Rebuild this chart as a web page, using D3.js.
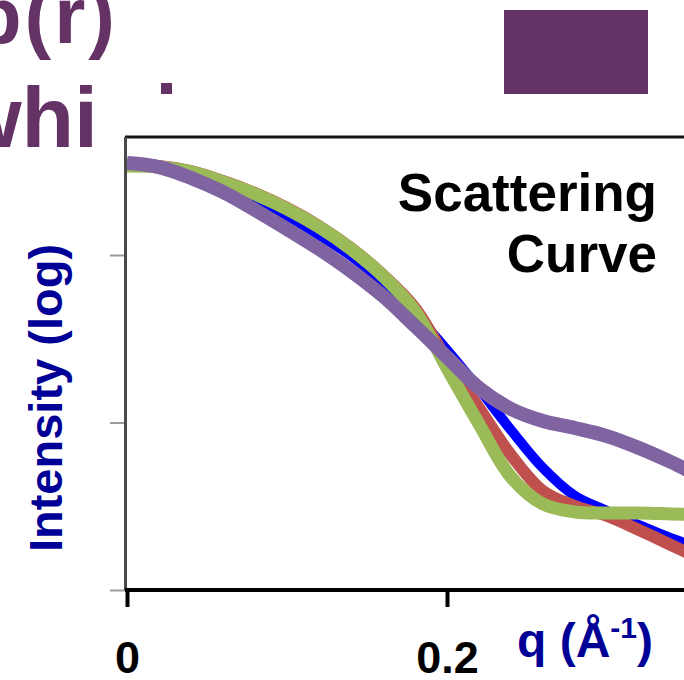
<!DOCTYPE html>
<html>
<head>
<meta charset="utf-8">
<script src="https://cdn.jsdelivr.net/npm/d3@7"></script>
<style>
  html, body { margin: 0; padding: 0; background: #fff; overflow: hidden; }
  svg { display: block; font-family: 'Liberation Sans', Arial, sans-serif; }
</style>
</head>
<body>
<svg id="chart" width="684" height="680"></svg>
<script>
// q in 1/Angstrom, intensity as log10 (arbitrary units)
const qValues = [0, 0.02, 0.04, 0.06, 0.08, 0.10, 0.12, 0.14, 0.16, 0.18, 0.20,
  0.22, 0.24, 0.26, 0.28, 0.30, 0.32, 0.34, 0.36]
const blueLog = [2.537, 2.525, 2.478, 2.406, 2.328, 2.233, 2.119, 1.994, 1.839, 1.648, 1.433,
  1.200, 0.955, 0.728, 0.561, 0.472, 0.388, 0.310, 0.245]
const redLog = [2.537, 2.531, 2.501, 2.442, 2.370, 2.281, 2.173, 2.042, 1.881, 1.684, 1.373,
  1.087, 0.806, 0.591, 0.501, 0.442, 0.358, 0.269, 0.179]
const greenLog = [2.531, 2.525, 2.496, 2.436, 2.364, 2.275, 2.167, 2.036, 1.875, 1.666, 1.325,
  0.991, 0.675, 0.513, 0.466, 0.460, 0.460, 0.454, 0.448]
const purpleLog = [2.549, 2.525, 2.460, 2.376, 2.269, 2.155, 2.036, 1.904, 1.755, 1.576, 1.391,
  1.206, 1.081, 1.009, 0.967, 0.919, 0.848, 0.764, 0.669]

const xTicks = [0, 0.2]
const yTicks = [0, 1, 2]

const series = [
  { name: 'blue', values: blueLog, color: '#0000ff', width: 10 },
  { name: 'red', values: redLog, color: '#c0504d', width: 12 },
  { name: 'green', values: greenLog, color: '#9bbb59', width: 13 },
  { name: 'purple', values: purpleLog, color: '#8064a2', width: 14 }
]

const svg = d3.select('#chart')
const plot = { left: 127, top: 137, bottom: 590, right: 700 }

const x = d3.scaleLinear().domain([0, 0.2]).range([plot.left, 447])
const y = d3.scaleLinear().domain([0, 2]).range([plot.bottom, 255])

// slide leftovers around the chart
const slidePurple = '#643264'
svg.append('text')
  .attr('x', 118).attr('y', 43)
  .attr('text-anchor', 'end')
  .attr('font-size', 80).attr('font-weight', 'bold')
  .attr('letter-spacing', 3)
  .attr('fill', slidePurple)
  .text('p(r)')
svg.append('text')
  .attr('x', 98).attr('y', 147)
  .attr('text-anchor', 'end')
  .attr('font-size', 86).attr('font-weight', 'bold')
  .attr('fill', slidePurple)
  .text('whi')
svg.append('rect')
  .attr('x', 161).attr('y', 83).attr('width', 11).attr('height', 11)
  .attr('fill', slidePurple)
svg.append('rect')
  .attr('x', 504).attr('y', 10).attr('width', 144).attr('height', 84)
  .attr('fill', slidePurple)

// y ticks (grey, no labels)
svg.append('g')
  .attr('transform', `translate(${plot.left - 2},0)`)
  .call(d3.axisLeft(y).tickValues(yTicks).tickSize(15).tickFormat(''))
  .call(g => g.select('.domain').remove())
  .call(g => g.selectAll('.tick line').attr('stroke', '#9a9a9a').attr('stroke-width', 2))

// curves
svg.append('clipPath').attr('id', 'plot-clip')
  .append('rect')
  .attr('x', plot.left).attr('y', plot.top)
  .attr('width', plot.right - plot.left).attr('height', plot.bottom - plot.top)

const line = d3.line()
  .x((d, i) => x(qValues[i]))
  .y(d => y(d))
  .curve(d3.curveCatmullRom.alpha(0.5))

svg.append('g')
  .attr('clip-path', 'url(#plot-clip)')
  .selectAll('path')
  .data(series)
  .join('path')
  .attr('fill', 'none')
  .attr('stroke', d => d.color)
  .attr('stroke-width', d => d.width)
  .attr('stroke-linejoin', 'round')
  .attr('d', d => line(d.values))

// frame
svg.append('line')
  .attr('x1', plot.left - 2).attr('x2', 684)
  .attr('y1', plot.top).attr('y2', plot.top)
  .attr('stroke', '#111').attr('stroke-width', 3)
svg.append('line')
  .attr('x1', plot.left - 1.5).attr('x2', plot.left - 1.5)
  .attr('y1', plot.top).attr('y2', plot.bottom)
  .attr('stroke', '#4a4a4a').attr('stroke-width', 3)

// x axis
const xAxis = svg.append('g')
  .attr('transform', `translate(0,${plot.bottom})`)
  .call(d3.axisBottom(x).tickValues(xTicks).tickSize(17).tickFormat(d => String(d)))
xAxis.select('.domain').remove()
xAxis.append('line')
  .attr('x1', plot.left - 2).attr('x2', 684)
  .attr('stroke', '#000').attr('stroke-width', 4)
xAxis.selectAll('.tick line').attr('stroke', '#000').attr('stroke-width', 4)
xAxis.selectAll('.tick text')
  .attr('y', 83).attr('dy', null)
  .attr('fill', '#000')
  .attr('font-family', "'Liberation Sans', Arial, sans-serif")
  .attr('font-size', 45).attr('font-weight', 'bold')

// axis titles
const navy = '#000096'
const xTitle = svg.append('text')
  .attr('x', 517).attr('y', 657)
  .attr('font-size', 48).attr('font-weight', 'bold')
  .attr('fill', navy)
xTitle.append('tspan').text('q (Å')
xTitle.append('tspan').attr('font-size', 30).attr('dy', -19).text('-1')
xTitle.append('tspan').attr('dy', 19).text(')')

svg.append('text')
  .attr('transform', 'translate(62,398) rotate(-90)')
  .attr('text-anchor', 'middle')
  .attr('font-size', 47).attr('font-weight', 'bold')
  .attr('fill', navy)
  .text('Intensity (log)')

// in-plot caption
svg.append('text')
  .attr('text-anchor', 'end')
  .attr('font-size', 53).attr('font-weight', 'bold')
  .attr('fill', '#000')
  .selectAll('tspan')
  .data(['Scattering', 'Curve'])
  .join('tspan')
  .attr('x', 657)
  .attr('y', (d, i) => 211 + i * 61)
  .text(d => d)
</script>
</body>
</html>
